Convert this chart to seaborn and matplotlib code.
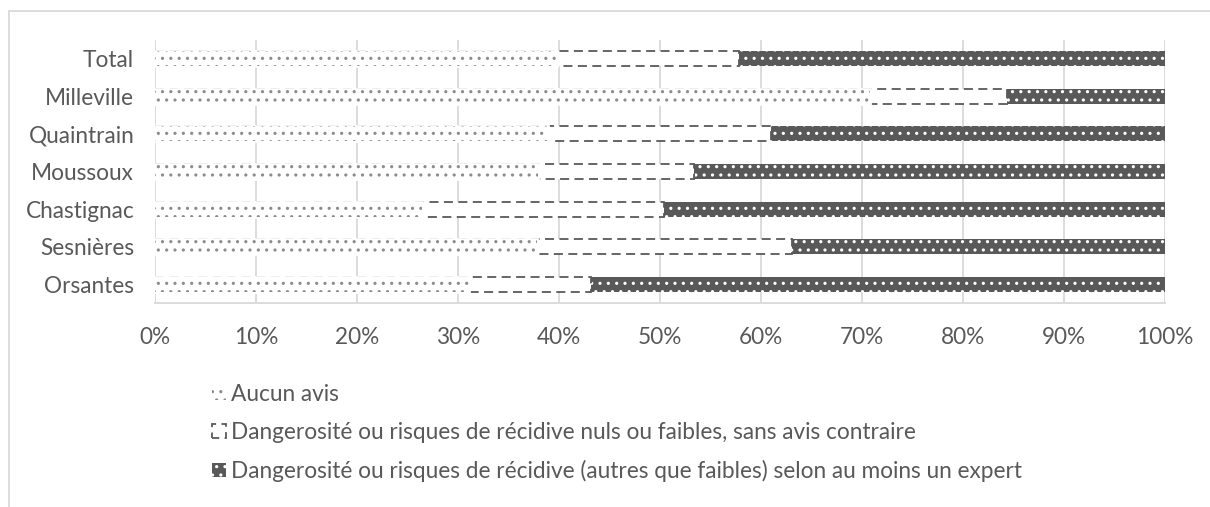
import matplotlib
matplotlib.use("Agg")
import matplotlib.pyplot as plt
from matplotlib.patches import Patch, Rectangle
import numpy as np
import pandas as pd
import seaborn as sns

communes = ["Total", "Milleville", "Quaintrain", "Moussoux", "Chastignac", "Sesnières", "Orsantes"]
aucun_avis = [39.8, 70.8, 38.9, 37.9, 26.4, 37.8, 31.1]
faibles = [18.0, 13.6, 22.1, 15.5, 24.0, 25.3, 12.1]
expert = [42.2, 15.6, 39.0, 46.6, 49.6, 36.9, 56.8]
series_labels = [
    "Aucun avis",
    "Dangerosité ou risques de récidive nuls ou faibles, sans avis contraire",
    "Dangerosité ou risques de récidive (autres que faibles) selon au moins un expert",
]
tick_labels = ["0%", "10%", "20%", "30%", "40%", "50%", "60%", "70%", "80%", "90%", "100%"]

df = pd.DataFrame({"commune": communes, "a": aucun_avis, "b": faibles, "c": expert})
df["cum1"] = df["a"]
df["cum2"] = df["a"] + df["b"]
df["cum3"] = df["a"] + df["b"] + df["c"]

sns.set_style("white")
plt.rcParams["font.family"] = ["Lato", "DejaVu Sans"]
plt.rcParams["hatch.linewidth"] = 1.1
TXT = "#595959"
DARK = "#595959"
DOTS = "#8c8c8c"
FS = 16.3

fig = plt.figure(figsize=(12.1, 5.07), dpi=100)
ax = fig.add_axes([155 / 1210, 1 - 303 / 507, 1010 / 1210, 263 / 507])

bw = 0.4
# third series (full stack)
sns.barplot(data=df, x="cum3", y="commune", orient="h", color=DARK, width=bw,
            saturation=1, ax=ax, edgecolor="white", linewidth=0, hatch="..", zorder=2)
# second series: dashed outline only
sns.barplot(data=df, x="cum2", y="commune", orient="h", color="white", width=bw,
            saturation=1, ax=ax, edgecolor=DARK, linewidth=1.3, linestyle=(0, (5, 3)), zorder=3)
# first series: white mask hiding the dashed outline, then dotted fill
sns.barplot(data=df, x="cum1", y="commune", orient="h", color="white", width=bw,
            saturation=1, ax=ax, edgecolor="white", linewidth=2.0, zorder=4)
sns.barplot(data=df, x="cum1", y="commune", orient="h", color="white", width=bw,
            saturation=1, ax=ax, edgecolor=DOTS, linewidth=0, hatch="..", zorder=5)

ax.set_xlim(0, 100)
ax.set_ylim(6.5, -0.5)
ax.set_xticks(np.arange(0, 101, 10))
ax.set_xticklabels(tick_labels)
ax.set_xlabel("")
ax.set_ylabel("")
ax.grid(axis="x", color="#d9d9d9", linewidth=1.3, zorder=0)
ax.set_axisbelow(True)
for s in ["top", "right", "left"]:
    ax.spines[s].set_visible(False)
ax.spines["bottom"].set_color("#d9d9d9")
ax.spines["bottom"].set_linewidth(1.3)
ax.tick_params(axis="both", length=0, labelsize=FS, colors=TXT)
ax.tick_params(axis="x", pad=17)
ax.tick_params(axis="y", pad=15)

handles = [
    Patch(facecolor="white", edgecolor=DOTS, hatch="..", linewidth=0),
    Patch(facecolor="white", edgecolor=DARK, linestyle=(0, (4, 3)), linewidth=1.3),
    Patch(facecolor=DARK, edgecolor="white", hatch="..", linewidth=0),
]
leg = fig.legend(handles, series_labels, loc="upper left", bbox_to_anchor=(212 / 1210, 1 - 384 / 507),
                 frameon=False, fontsize=FS, labelcolor=TXT, handlelength=0.6, handleheight=0.6,
                 handletextpad=0.25, labelspacing=0.75, borderpad=0, borderaxespad=0)

fig.patches.append(Rectangle((9 / 1210, -0.1), 1.2, 1 - 11 / 507 + 0.1, transform=fig.transFigure,
                             fill=False, edgecolor="#d9d9d9", linewidth=1.3, zorder=0))

fig.savefig("out.png", dpi=100, facecolor="white")
